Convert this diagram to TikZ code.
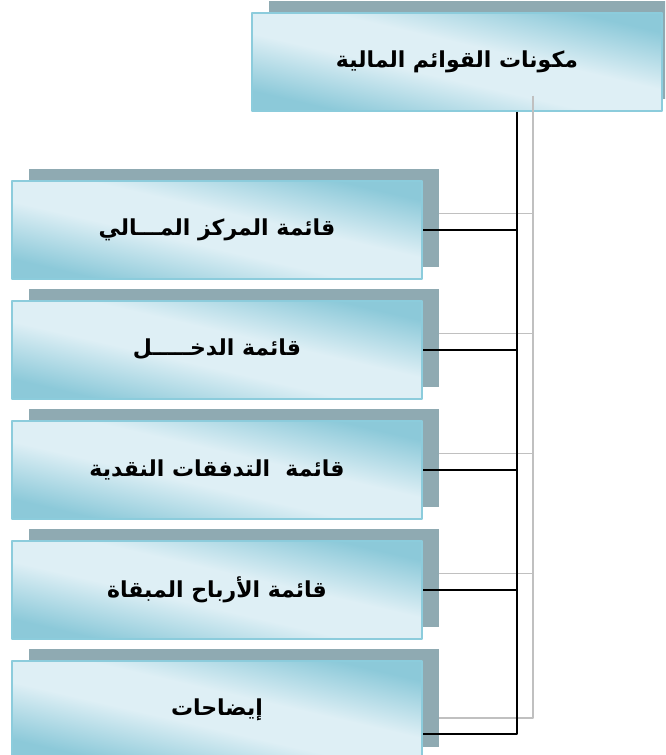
\documentclass[tikz,border=0pt]{standalone}
\usepackage{fontspec}
\TeXXeTstate=1
\newfontfamily\arabicfont[Script=Arabic]{DejaVu Sans}
\definecolor{boxdark}{RGB}{140,201,217}
\definecolor{boxlight}{RGB}{222,239,245}
\definecolor{boxedge}{RGB}{140,204,220}
\definecolor{shadowgray}{RGB}{143,170,178}
\definecolor{linegray}{RGB}{192,192,192}
\pgfdeclareverticalshading{boxshade}{100bp}{color(0bp)=(boxdark); color(26bp)=(boxdark);
  color(44bp)=(boxlight); color(56bp)=(boxlight); color(74bp)=(boxdark); color(100bp)=(boxdark)}
\tikzset{
  listbox/.style={draw=boxedge, line width=2pt, minimum width=410pt, minimum height=98pt,
    preaction={fill=shadowgray, transform canvas={shift={(17pt,12pt)}}},
    shading=boxshade, shading angle=-13,
    font=\arabicfont\bfseries\fontsize{22}{26}\selectfont},
  link/.style={line width=2pt, black},
  linkshadow/.style={line width=1.6pt, linegray, transform canvas={shift={(16pt,16pt)}}}
}
\begin{document}
\begin{tikzpicture}[x=1pt, y=-1pt, line join=round]
  \clip (0,0) rectangle (665,755);
  \fill[white] (0,0) rectangle (665,755);
  % main box
  \node[listbox] (top) at (457,61.5) {\beginR مكونات القوائم المالية\endR};
  % the five statements
  \node[listbox] (b1) at (217,229.5) {\beginR قائمة المركز المـــالي\endR};
  \node[listbox] (b2) at (217,349.5) {\beginR قائمة الدخـــــل\endR};
  \node[listbox] (b3) at (217,469.5) {\beginR قائمة\ \ التدفقات النقدية\endR};
  \node[listbox] (b4) at (217,589.5) {\beginR قائمة الأرباح المبقاة\endR};
  \node[listbox] (b5) at (217,710) {\beginR إيضاحات\endR};
  \coordinate (hub) at ([xshift=60pt]top.south);
  \coordinate (j5) at ([yshift=-24pt]b5.east);
  % connectors and their shadows
  \foreach \s in {linkshadow,link}{
    \draw[\s] (hub) -- (hub |- j5) -- (j5);
    \foreach \b in {b1,b2,b3,b4}
      \draw[\s] (\b.east) -- (\b.east -| hub);
  }
\end{tikzpicture}
\end{document}
